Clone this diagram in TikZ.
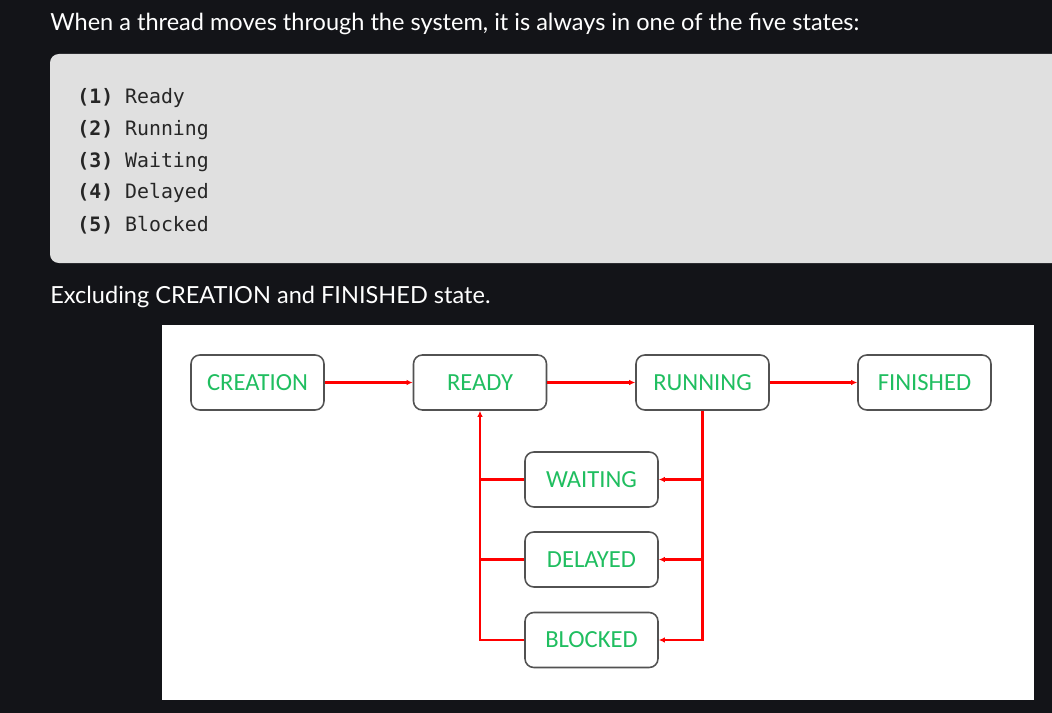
\documentclass[tikz,border=0pt]{standalone}
\usepackage{fontspec}
\setmainfont{Lato}
\setmonofont{DejaVu Sans Mono}
\newfontfamily\boxfont{Carlito}
\usetikzlibrary{arrows.meta}

\definecolor{pagebg}{RGB}{19,20,24}
\definecolor{codebg}{RGB}{224,224,224}
\definecolor{stategreen}{RGB}{32,190,96}
\definecolor{linkred}{RGB}{255,0,0}

\tikzset{
    state/.style={draw=black!68, line width=.9pt, rounded corners=5pt, fill=white,
        minimum width=2.66cm, minimum height=1.1cm, font=\boxfont\fontsize{14}{16}\selectfont,
        text=stategreen},
    link/.style={draw=linkred, line width=1.2pt},
    tip/.style={-{Latex[length=3.5pt,width=3.2pt]}},
}

\begin{document}
\begin{tikzpicture}[x=0.02cm, y=-0.02cm]
                    % page, code box, picture frame
                    \fill[pagebg] (0,0) rectangle (1052,713);
                    \useasboundingbox (0,0) rectangle (1052,713);
                    \fill[codebg, rounded corners=5pt] (50,54) rectangle (1070,263);
                    \fill[white] (162,325) rectangle (1034,700);

                    \node[anchor=west, inner sep=0pt, text=white, font=\fontsize{13.4}{16}\selectfont] (intro) at (50,24)
                        {When a thread moves through the system, it is always in one of the five states:};
                    \foreach \n/\s [count=\i] in {1/Ready, 2/Running, 3/Waiting, 4/Delayed, 5/Blocked}
                        \node[anchor=west, inner sep=0pt, text=black!85, font=\ttfamily\fontsize{11.3}{13}\selectfont]
                            (item\i) at (77, {98 + 31.8*(\i-1)}) {\textbf{(\n)} \s};
                    \node[anchor=west, inner sep=0pt, text=white, font=\fontsize{13.4}{16}\selectfont] (excl) at (50,297)
                        {Excluding CREATION and FINISHED state.};

                    % states
                    \node[state] (creation) at (257.5,382.5) {CREATION};
                    \node[state] (ready) at (480,382.5) {READY};
                    \node[state] (running) at (702.5,382.5) {RUNNING};
                    \node[state] (finished) at (924.5,382.5) {FINISHED};
                    \node[state] (waiting) at (591.5,479.5) {WAITING};
                    \node[state] (delayed) at (591.5,559.5) {DELAYED};
                    \node[state] (blocked) at (591.5,640) {BLOCKED};

                    % transitions
                    \draw[link, tip] (creation) -- (ready);
                    \draw[link, tip] (ready) -- (running);
                    \draw[link, tip] (running) -- (finished);
                    \draw[link, tip] (blocked.west) -| (ready.south);
                    \draw[link, tip] (running.south) |- (blocked.east);
                    \foreach \s in {waiting, delayed} {
                        \draw[link] (\s.west) -- (\s.west -| ready.south);
                        \draw[link, tip] (\s.east -| running.south) -- (\s.east);
                    }
                \end{tikzpicture}
\end{document}
